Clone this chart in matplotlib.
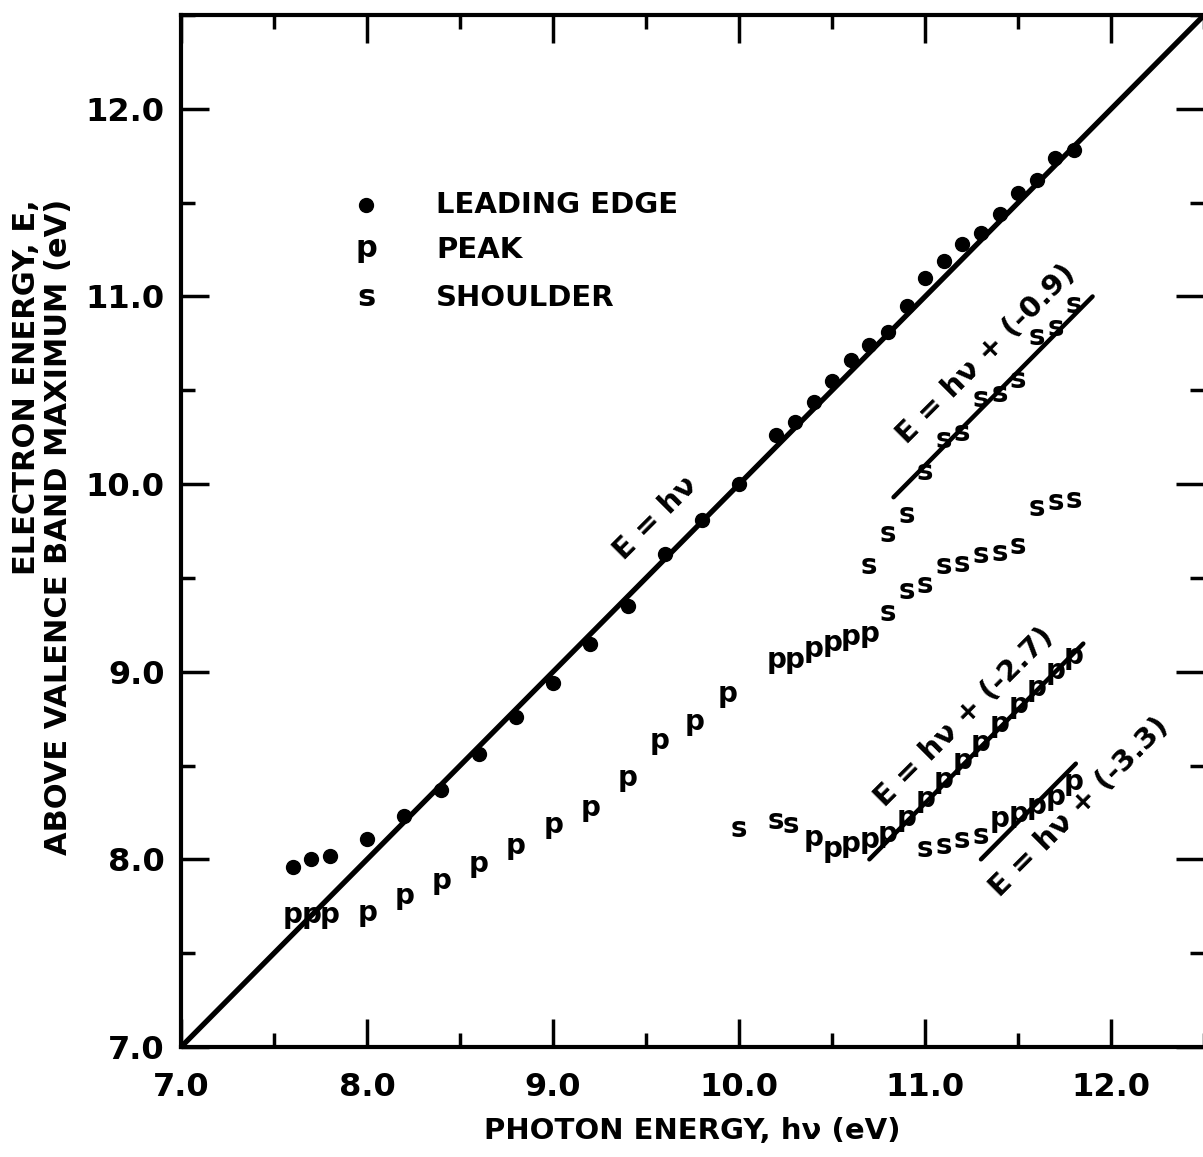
import matplotlib.pyplot as plt
from matplotlib.transforms import offset_copy

# leading edge (dots)
edge_x = [7.6, 7.7, 7.8, 8.0, 8.2, 8.4, 8.6, 8.8, 9.0, 9.2, 9.4, 9.6, 9.8, 10.0,
          10.2, 10.3, 10.4, 10.5, 10.6, 10.7, 10.8, 10.9, 11.0, 11.1, 11.2, 11.3,
          11.4, 11.5, 11.6, 11.7, 11.8]
edge_y = [7.96, 8.0, 8.02, 8.11, 8.23, 8.37, 8.56, 8.76, 8.94, 9.15, 9.35, 9.63,
          9.81, 10.0, 10.26, 10.33, 10.44, 10.55, 10.66, 10.74, 10.81, 10.95,
          11.1, 11.19, 11.28, 11.34, 11.44, 11.55, 11.62, 11.74, 11.78]

# peaks (p)
peak1_x = [7.6, 7.7, 7.8, 8.0, 8.2, 8.4, 8.6, 8.8, 9.0, 9.2, 9.4, 9.57, 9.76,
           9.94, 10.2, 10.3, 10.4, 10.5, 10.6, 10.7]
peak1_y = [7.70, 7.70, 7.70, 7.71, 7.80, 7.88, 7.97, 8.07, 8.18, 8.27, 8.43,
           8.63, 8.73, 8.88, 9.06, 9.06, 9.12, 9.15, 9.18, 9.20]
peak2_x = [10.4, 10.5, 10.6, 10.7, 10.8, 10.9, 11.0, 11.1, 11.2, 11.3, 11.4,
           11.5, 11.6, 11.7, 11.8]
peak2_y = [8.11, 8.05, 8.08, 8.10, 8.13, 8.22, 8.32, 8.42, 8.52, 8.62, 8.72,
           8.82, 8.91, 9.00, 9.08]
peak3_x = [11.4, 11.5, 11.6, 11.7, 11.8]
peak3_y = [8.21, 8.24, 8.28, 8.33, 8.41]

# shoulders (s)
sh1_x = [10.7, 10.8, 10.9, 11.0, 11.1, 11.2, 11.3, 11.4, 11.5, 11.6, 11.7, 11.8]
sh1_y = [9.56, 9.73, 9.83, 10.06, 10.23, 10.27, 10.45, 10.48, 10.55, 10.78,
         10.83, 10.95]
sh2_x = [10.8, 10.9, 11.0, 11.1, 11.2, 11.3, 11.4, 11.5, 11.6, 11.7, 11.8]
sh2_y = [9.31, 9.43, 9.46, 9.56, 9.57, 9.62, 9.63, 9.67, 9.87, 9.90, 9.91]
sh3_x = [10.0, 10.2, 10.28, 11.0, 11.1, 11.2, 11.3]
sh3_y = [8.16, 8.20, 8.18, 8.05, 8.07, 8.10, 8.12]

# E = hv + offset lines
fit_offset = [0.0, -0.9, -2.7, -3.3]
fit_start = [7.0, 10.83, 10.7, 11.3]
fit_end = [12.5, 11.9, 11.85, 11.81]
fit_label = ['E = hν', 'E = hν + (-0.9)', 'E = hν + (-2.7)', 'E = hν + (-3.3)']
fit_label_x = [9.55, 11.33, 11.21, 11.83]
fit_label_y = [9.82, 10.69, 8.76, 8.28]

ticks = [7.0, 8.0, 9.0, 10.0, 11.0, 12.0]
tick_labels = ['7.0', '8.0', '9.0', '10.0', '11.0', '12.0']

plt.rcParams['font.family'] = 'DejaVu Sans'

fig = plt.figure(figsize=(12.03, 11.57), dpi=100)
ax = fig.add_axes([0.1505, 0.0951, 0.8505, 0.8919])
ax.set_xlim(7.0, 12.47)
ax.set_ylim(7.0, 12.5)

for off, x0, x1 in zip(fit_offset, fit_start, fit_end):
    ax.plot([x0, x1], [x0 + off, x1 + off], color='black',
            lw=3.8 if off == 0 else 3.2, solid_capstyle='round')

ax.plot(edge_x, edge_y, 'o', color='black', markersize=10, zorder=3)

fs = 20
# letters are placed so the middle of the lowercase body sits on the value
trans = offset_copy(ax.transData, fig=fig, y=-0.27 * fs, units='points')


def letters(xs, ys, ch):
    for x, y in zip(xs, ys):
        ax.text(x, y, ch, transform=trans, ha='center', va='baseline',
                fontsize=fs, fontweight='bold', zorder=3)


letters(peak1_x, peak1_y, 'p')
letters(peak2_x, peak2_y, 'p')
letters(peak3_x, peak3_y, 'p')
letters(sh1_x, sh1_y, 's')
letters(sh2_x, sh2_y, 's')
letters(sh3_x, sh3_y, 's')

for lab, x, y in zip(fit_label, fit_label_x, fit_label_y):
    ax.text(x, y, lab, rotation=45, ha='center', va='center', fontsize=21,
            fontweight='bold', rotation_mode='anchor')

# key
ax.plot([7.995], [11.49], 'o', color='black', markersize=10)
ax.text(7.995, 11.25, 'p', transform=trans, ha='center', va='baseline',
        fontsize=22, fontweight='bold')
ax.text(7.995, 10.99, 's', transform=trans, ha='center', va='baseline',
        fontsize=22, fontweight='bold')
for lab, y in zip(['LEADING EDGE', 'PEAK', 'SHOULDER'], [11.49, 11.25, 10.99]):
    ax.text(8.37, y, lab, ha='left', va='center', fontsize=21,
            fontweight='bold')

ax.set_xticks(ticks)
ax.set_xticklabels(tick_labels, fontweight='bold')
ax.set_yticks(ticks)
ax.set_yticklabels(tick_labels, fontweight='bold')
ax.set_xticks([7.5, 8.5, 9.5, 10.5, 11.5, 12.5], minor=True)
ax.set_yticks([7.5, 8.5, 9.5, 10.5, 11.5, 12.5], minor=True)
ax.tick_params(which='both', direction='in', top=True, right=True, width=2.5,
               labelsize=23)
ax.tick_params(axis='x', pad=18)
ax.tick_params(axis='y', pad=12)
ax.tick_params(which='major', length=20)
ax.tick_params(which='minor', length=10)
for sp in ax.spines.values():
    sp.set_linewidth(3)

ax.set_xlabel('PHOTON ENERGY, hν (eV)', fontsize=21, fontweight='bold',
              labelpad=10)
fig.text(0.022, 0.665, 'ELECTRON ENERGY, E,', rotation=90, ha='center',
         va='center', fontsize=22, fontweight='bold')
fig.text(0.049, 0.545, 'ABOVE VALENCE BAND MAXIMUM (eV)', rotation=90,
         ha='center', va='center', fontsize=22, fontweight='bold')

fig.savefig('out.png', dpi=100)
